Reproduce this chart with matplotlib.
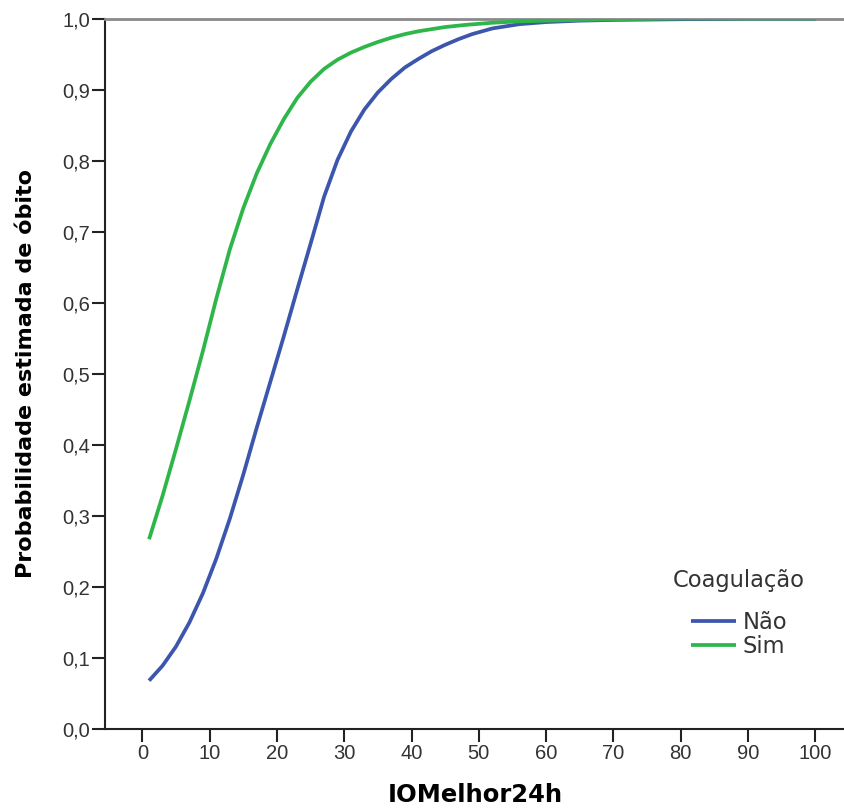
import matplotlib
matplotlib.use("Agg")
import matplotlib.pyplot as plt

# %% values
iomelhor_nao = [1, 3, 5, 7, 9, 11, 13, 15, 17, 19, 21, 23, 25, 27, 29, 31, 33,
                35, 37, 39, 41, 43, 45, 47, 49, 52, 56, 60, 65, 70, 80, 90, 100]
prob_nao = [0.068, 0.089, 0.116, 0.150, 0.191, 0.240, 0.296, 0.358, 0.424,
            0.488, 0.552, 0.618, 0.683, 0.749, 0.801, 0.841, 0.872, 0.896,
            0.915, 0.931, 0.943, 0.954, 0.963, 0.971, 0.978, 0.986, 0.992,
            0.995, 0.997, 0.998, 0.999, 1.000, 1.000]

iomelhor_sim = [1, 3, 5, 7, 9, 11, 13, 15, 17, 19, 21, 23, 25, 27, 29, 31, 33,
                35, 37, 39, 41, 43, 45, 48, 52, 56, 60, 65, 70, 80, 90, 100]
prob_sim = [0.267, 0.328, 0.394, 0.462, 0.532, 0.606, 0.675, 0.733, 0.782,
            0.823, 0.858, 0.888, 0.911, 0.929, 0.942, 0.952, 0.960, 0.967,
            0.973, 0.978, 0.982, 0.985, 0.988, 0.991, 0.994, 0.996, 0.997,
            0.998, 0.999, 1.000, 1.000, 1.000]

x_ticks = list(range(0, 101, 10))
y_ticks = [i / 10 for i in range(11)]
y_labels = [f"{t:.1f}".replace(".", ",") for t in y_ticks]

# %% plot
plt.rcParams["font.family"] = ["Liberation Sans", "DejaVu Sans"]

fig = plt.figure(figsize=(8.45, 8.08), dpi=100)
ax = fig.add_axes([0.1243, 0.0978, 0.8757, 0.8793])

ax.plot(iomelhor_nao, prob_nao, color="#3d56ad", lw=2.7, label="Não",
        solid_capstyle="butt", solid_joinstyle="round", zorder=3)
ax.plot(iomelhor_sim, prob_sim, color="#2fb64b", lw=2.7, label="Sim",
        solid_capstyle="butt", solid_joinstyle="round", zorder=3)

ax.set_xlim(-5.54, 104.4)
ax.set_ylim(0, 1)
ax.set_xticks(x_ticks)
ax.set_yticks(y_ticks)
ax.set_yticklabels(y_labels)

ax.spines["right"].set_visible(False)
ax.spines["top"].set_color("#8a8a8a")
ax.spines["top"].set_linewidth(2)
for s in ["left", "bottom"]:
    ax.spines[s].set_color("#222222")
    ax.spines[s].set_linewidth(1.5)
ax.tick_params(direction="out", length=9.5, width=1.5, color="#222222",
               labelsize=14.5, labelcolor="#333333", pad=1)

ax.set_xlabel("IOMelhor24h", fontsize=17.5, fontweight="bold",
              family="DejaVu Sans", labelpad=15)
ax.set_ylabel("Probabilidade estimada de óbito", fontsize=16,
              fontweight="bold", family="DejaVu Sans", labelpad=19)

leg = ax.legend(title="Coagulação", loc="upper left",
                bbox_to_anchor=(673 / 845, 1 - 569 / 808),
                bbox_transform=fig.transFigure, frameon=False,
                prop={"family": "DejaVu Sans", "size": 16.3},
                title_fontproperties={"family": "DejaVu Sans", "size": 16.3},
                handlelength=2.0, handletextpad=0.3, labelspacing=0.05,
                borderpad=0, borderaxespad=0)
leg._legend_box.sep = 13.7  # extra room under the title, as in the reference
for t in leg.get_texts():
    t.set_color("#333333")
leg.get_title().set_color("#333333")

fig.savefig("out.png", dpi=100)
